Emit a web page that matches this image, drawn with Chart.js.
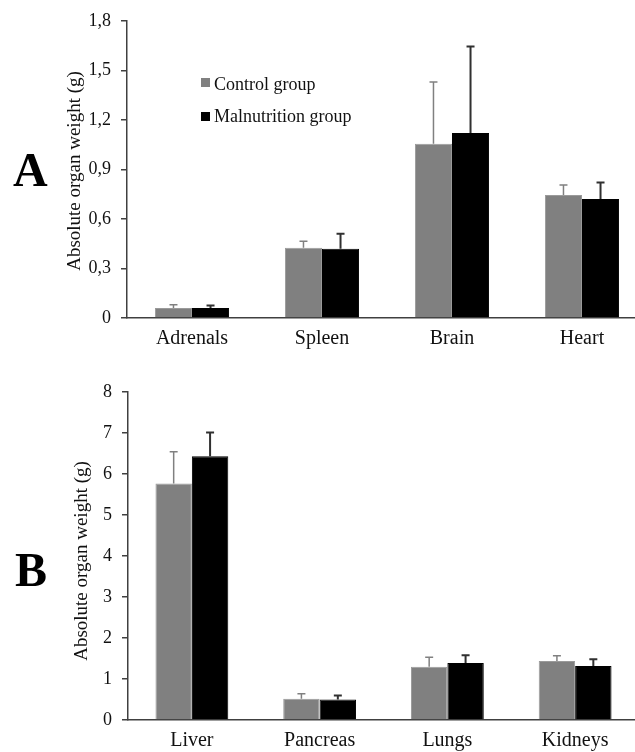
<!DOCTYPE html>
<html>
<head>
<meta charset="utf-8">
<script src="https://cdn.jsdelivr.net/npm/chart.js"></script>
<style>
    html, body {
        margin: 0;
        padding: 0;
        background: #fff;
        width: 635px;
        height: 752px;
        overflow: hidden;
        font-family: 'Liberation Serif', 'Times New Roman', serif;
        color: #111;
    }
    .panel { position: absolute; left: 0; }
    #panelA { top: 0; width: 650px; height: 362px; }
    #panelB { top: 370px; width: 645px; height: 382px; }
    .letter {
        position: absolute;
        font-weight: bold;
        font-size: 48px;
        line-height: 48px;
        color: #000;
    }
    .ytitle {
        position: absolute;
        font-size: 19px;
        line-height: 19px;
        white-space: nowrap;
        transform: translate(-50%, -50%) rotate(-90deg);
    }
    .legend-item {
        position: absolute;
        left: 214px;
        font-size: 18px;
        line-height: 18px;
        white-space: nowrap;
    }
    .swatch {
        position: absolute;
        left: 201px;
        width: 9px;
        height: 9px;
    }
</style>
</head>
<body>
    <div class="panel" id="panelA"><canvas id="chartA"></canvas></div>
    <div class="panel" id="panelB"><canvas id="chartB"></canvas></div>

    <div class="letter" style="left:13px; top:146px;">A</div>
    <div class="letter" style="left:15px; top:546px;">B</div>

    <div class="ytitle" style="left:73px; top:171px;">Absolute organ weight (g)</div>
    <div class="ytitle" style="left:80px; top:561px;">Absolute organ weight (g)</div>

    <div class="swatch" style="top:78px; background:#808080;"></div>
    <div class="legend-item" style="top:75px;">Control group</div>
    <div class="swatch" style="top:112px; background:#000;"></div>
    <div class="legend-item" style="top:107px;">Malnutrition group</div>

<script>
    // panel A
    const organsA = ['Adrenals', 'Spleen', 'Brain', 'Heart'];
    const controlA = [0.06, 0.425, 1.055, 0.745];
    const controlErrA = [0.02, 0.04, 0.375, 0.06];
    const malnutA = [0.06, 0.42, 1.12, 0.72];
    const malnutErrA = [0.015, 0.09, 0.525, 0.1];
    const tickValuesA = [0, 0.3, 0.6, 0.9, 1.2, 1.5, 1.8];
    const tickLabelsA = ['0', '0,3', '0,6', '0,9', '1,2', '1,5', '1,8'];

    // panel B
    const organsB = ['Liver', 'Pancreas', 'Lungs', 'Kidneys'];
    const controlB = [5.77, 0.52, 1.3, 1.44];
    const controlErrB = [0.77, 0.12, 0.23, 0.13];
    const malnutB = [6.43, 0.5, 1.39, 1.32];
    const malnutErrB = [0.58, 0.1, 0.19, 0.16];
    const tickValuesB = [0, 1, 2, 3, 4, 5, 6, 7, 8];
    const tickLabelsB = ['0', '1', '2', '3', '4', '5', '6', '7', '8'];

    const axisColor = '#404040';
    const serif = "'Liberation Serif', 'Times New Roman', serif";

    // upper error bars with a small cap
    const errorBars = {
        id: 'errorBars',
        afterDatasetsDraw(chart) {
            const ctx = chart.ctx;
            const y = chart.scales.y;
            chart.data.datasets.forEach((ds, i) => {
                const meta = chart.getDatasetMeta(i);
                ctx.save();
                ctx.strokeStyle = ds.errColor;
                ctx.lineWidth = ds.errWidth;
                meta.data.forEach((bar, j) => {
                    const top = y.getPixelForValue(ds.data[j] + ds.errors[j]);
                    ctx.beginPath();
                    ctx.moveTo(bar.x, bar.y);
                    ctx.lineTo(bar.x, top);
                    ctx.moveTo(bar.x - 4, top);
                    ctx.lineTo(bar.x + 4, top);
                    ctx.stroke();
                });
                ctx.restore();
            });
        }
    };

    function makeChart(id, labels, control, controlErr, malnut, malnutErr,
                       tickValues, tickLabels, axisWidth, axisHeight, padding) {
        return new Chart(document.getElementById(id), {
            type: 'bar',
            data: {
                labels: labels,
                datasets: [{
                    label: 'Control group',
                    data: control,
                    errors: controlErr,
                    errColor: '#808080',
                    errWidth: 1.5,
                    backgroundColor: '#808080',
                    borderColor: '#9a9a9a',
                    borderWidth: 1
                }, {
                    label: 'Malnutrition group',
                    data: malnut,
                    errors: malnutErr,
                    errColor: '#303030',
                    errWidth: 2,
                    backgroundColor: '#000',
                    borderColor: '#000',
                    borderWidth: 1
                }]
            },
            options: {
                responsive: true,
                maintainAspectRatio: false,
                animation: false,
                layout: { padding: padding },
                plugins: {
                    legend: { display: false },
                    tooltip: { enabled: false }
                },
                datasets: {
                    bar: { barPercentage: 1, categoryPercentage: 0.57 }
                },
                scales: {
                    x: {
                        grid: { display: false, drawTicks: false, tickLength: 0 },
                        border: { display: true, color: axisColor, width: 1.5 },
                        ticks: {
                            color: '#111',
                            font: { family: serif, size: 20 },
                            padding: 9,
                            maxRotation: 0,
                            autoSkip: false
                        },
                        afterFit(scale) { scale.height = axisHeight; }
                    },
                    y: {
                        min: 0,
                        max: tickValues[tickValues.length - 1],
                        afterBuildTicks(scale) {
                            scale.ticks = tickValues.map(v => ({ value: v }));
                        },
                        grid: {
                            drawOnChartArea: false,
                            drawTicks: true,
                            tickLength: 6,
                            color: axisColor,
                            lineWidth: 1.5
                        },
                        border: { display: true, color: axisColor, width: 1.5 },
                        ticks: {
                            color: '#111',
                            font: { family: serif, size: 18 },
                            padding: 10,
                            callback: (v, i) => tickLabels[i]
                        },
                        afterFit(scale) { scale.width = axisWidth; }
                    }
                }
            },
            plugins: [errorBars]
        });
    }

    makeChart('chartA', organsA, controlA, controlErrA, malnutA, malnutErrA,
              tickValuesA, tickLabelsA, 127, 44, { top: 19, right: 3, left: 0, bottom: 0 });
    makeChart('chartB', organsB, controlB, controlErrB, malnutB, malnutErrB,
              tickValuesB, tickLabelsB, 128, 32, { top: 22, right: 6, left: 0, bottom: 0 });
</script>
</body>
</html>
